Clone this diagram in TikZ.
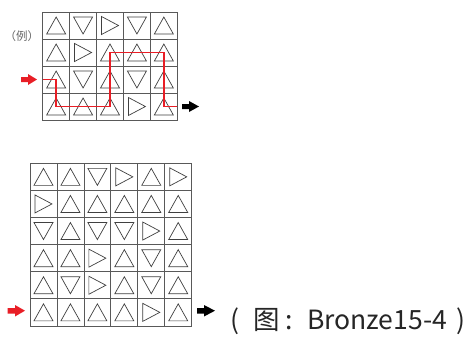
\documentclass[tikz,border=0pt]{standalone}
\usepackage{fontspec}
\newfontfamily\cjk{Noto Sans CJK SC}
\definecolor{myred}{RGB}{232,30,38}
\begin{document}
\begin{tikzpicture}[x=1pt,y=-1pt,
  gridline/.style={draw=black!65,line width=0.8pt},
  tri/.style={draw=black!75,line width=0.7pt,line join=miter},
  redpath/.style={draw=myred,line width=1.5pt},
  redarrow/.style={fill=myred,draw=none},
  blackarrow/.style={fill=black,draw=none},
  lbl/.style={inner sep=0pt,anchor=center}]
\useasboundingbox (0,0) rectangle (467,338);
\fill[white] (0,0) rectangle (467,338);
% triangle macros: cell center (x,y)
\def\U#1#2{\draw[tri] (#1-9.5,#2+8.5) -- (#1+9.5,#2+8.5) -- (#1,#2-8.5) -- cycle;}
\def\D#1#2{\draw[tri] (#1-9.5,#2-8.5) -- (#1+9.5,#2-8.5) -- (#1,#2+8.5) -- cycle;}
\def\R#1#2{\draw[tri] (#1-8.5,#2-9) -- (#1+8.5,#2) -- (#1-8.5,#2+9) -- cycle;}
% ---------- top example grid: 5 cols x 4 rows
\def\ox{42.7}\def\oy{12}\def\cs{26.92}
\foreach \r [count=\i from 0] in {{U,D,R,D,U},{U,R,U,U,U},{U,D,U,D,U},{U,U,U,R,U}}{
  \foreach \t [count=\j from 0] in \r {
    \pgfmathsetmacro\cx{\ox+(\j+0.5)*\cs}
    \pgfmathsetmacro\cy{\oy+(\i+0.5)*27}
    \csname\t\endcsname{\cx}{\cy}
  }
}
\draw[gridline] (42.7,12) rectangle (177.3,120);
\foreach \k in {1,...,4} \draw[gridline] (42.7+\k*26.92,12) -- (42.7+\k*26.92,120);
\foreach \k in {1,2,3} \draw[gridline] (42.7,12+\k*27) -- (177.3,12+\k*27);
% red path
\coordinate (pA) at (42.7,79.5);
\coordinate (pB) at (177.3,106.5);
\draw[redpath] (pA) -- (56.2,79.5) -- (56.2,106.5) -- (110,106.5) -- (110,52.5) -- (163.9,52.5) -- (163.9,106.5) -- (pB);
% arrows
\fill[redarrow] (21,77) -- (28,77) -- (28,74) -- (37,79.5) -- (28,85) -- (28,82) -- (21,82) -- cycle;
\fill[blackarrow] (182,104) -- (189,104) -- (189,101) -- (199,106.5) -- (189,112) -- (189,109) -- (182,109) -- cycle;
\node[lbl,text=black!60,font=\cjk\fontsize{11.5}{12}\selectfont] (ex) at (22,36.5) {（例）};
% ---------- bottom grid: 6x6
\foreach \r [count=\i from 0] in {{U,U,D,R,U,R},{R,U,U,U,U,U},{D,U,D,D,R,U},{U,U,R,U,D,U},{U,D,R,U,D,U},{U,U,U,U,R,U}}{
  \foreach \t [count=\j from 0] in \r {
    \pgfmathsetmacro\cx{30+(\j+0.5)*26.95}
    \pgfmathsetmacro\cy{163.3+(\i+0.5)*27.1}
    \csname\t\endcsname{\cx}{\cy}
  }
}
\draw[gridline] (30,163.3) rectangle (191.7,326);
\foreach \k in {1,...,5} \draw[gridline] (30+\k*26.95,163.3) -- (30+\k*26.95,326);
\foreach \k in {1,...,5} \draw[gridline] (30,163.3+\k*27.1) -- (191.7,163.3+\k*27.1);
\fill[redarrow] (7.5,308) -- (15,308) -- (15,305) -- (25,310.7) -- (15,316.5) -- (15,313.5) -- (7.5,313.5) -- cycle;
\fill[blackarrow] (197,308) -- (204,308) -- (204,305) -- (215,310.7) -- (204,316.5) -- (204,313.5) -- (197,313.5) -- cycle;
\node[inner sep=0pt,anchor=base west,font=\cjk\fontsize{26.5}{28}\selectfont,text=black!85] (cap) at (230,329.5) {(\hspace{14pt}图\hspace{6pt}:\hspace{14pt}Bronze15-4\hspace{10pt})};
\end{tikzpicture}
\end{document}
